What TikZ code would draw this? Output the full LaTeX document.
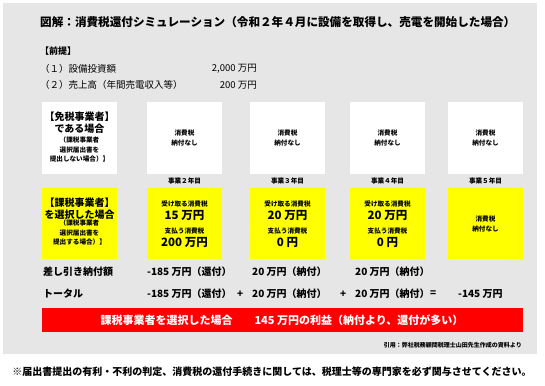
\documentclass[tikz,border=0pt]{standalone}
\usepackage{fontspec}
\setmainfont{Noto Sans CJK JP}
\definecolor{bgg}{HTML}{E6E6E6}
\definecolor{yel}{HTML}{FFFF00}
\definecolor{redb}{HTML}{FF0000}
\begin{document}
\begin{tikzpicture}[x=1pt,y=-1pt,
  lbl/.style={inner sep=0pt,font=\fontsize{9.5}{11}\selectfont},
  sml/.style={inner sep=0pt,align=center,font=\bfseries\fontsize{6.6}{9.6}\selectfont},
  big/.style={inner sep=0pt,font=\bfseries\fontsize{11.5}{13}\selectfont},
  head/.style={inner sep=0pt,align=center,font=\bfseries\fontsize{10}{11.8}\selectfont},
  row/.style={inner sep=0pt,anchor=west,font=\bfseries\fontsize{10}{12}\selectfont}]
\fill[white] (0,0) rectangle (545,385);
\useasboundingbox (0,0) rectangle (545,385);
\fill[bgg] (3,3) rectangle (537,354);
\node[anchor=west,inner sep=0pt,font=\bfseries\fontsize{11.6}{14}\selectfont] (title) at (40,22) {図解：消費税還付シミュレーション（令和２年４月に設備を取得し、売電を開始した場合）};
\node[lbl,anchor=west,font=\bfseries\fontsize{9}{11}\selectfont] (pre) at (40,51) {【前提】};
\node[lbl,anchor=west] (p1) at (40,69) {（１）設備投資額};
\node[lbl,anchor=east] (p1v) at (257,69) {2,000 万円};
\node[lbl,anchor=west] (p2) at (40,85) {（２）売上高（年間売電収入等）};
\node[lbl,anchor=east] (p2v) at (257,85) {200 万円};
% boxes
\foreach \x in {42,147,250,350,448}{
  \fill[white] (\x,102) rectangle ++(75,72);
  \fill[yel] (\x,188) rectangle ++(75,71);
}
\node[head] (w1a) at (79.5,123) {【免税事業者】\\である場合};
\node[sml] (w1b) at (79.5,149.5) {（課税事業者\\選択届出書を\\提出しない場合）】};
\foreach \n/\c in {w2/184.5,w3/287.5,w4/387.5,w5/485.5}{
  \node[sml] (\n) at (\c,138) {消費税\\納付なし};
}
\node[sml] (y2) at (184.5,181) {事業２年目};
\node[sml] (y3) at (287.5,181) {事業３年目};
\node[sml] (y4) at (387.5,181) {事業４年目};
\node[sml] (y5) at (485.5,181) {事業５年目};
\node[head] (k1a) at (79.5,209) {【課税事業者】\\を選択した場合};
\node[sml] (k1b) at (79.5,232.5) {（課税事業者\\選択届出書を\\提出する場合）】};
\node[sml] (r2) at (184.5,204) {受け取る消費税};
\node[big] (r2v) at (184.5,215.5) {15 万円};
\node[sml] (s2) at (184.5,231) {支払う消費税};
\node[big] (s2v) at (184.5,242.5) {200 万円};
\node[sml] (r3) at (287.5,204) {受け取る消費税};
\node[big] (r3v) at (287.5,215.5) {20 万円};
\node[sml] (s3) at (287.5,231) {支払う消費税};
\node[big] (s3v) at (287.5,242.5) {0 円};
\node[sml] (r4) at (387.5,204) {受け取る消費税};
\node[big] (r4v) at (387.5,215.5) {20 万円};
\node[sml] (s4) at (387.5,231) {支払う消費税};
\node[big] (s4v) at (387.5,242.5) {0 円};
\node[sml] (k5) at (485.5,224) {消費税\\納付なし};
% rows
\node[row] (d0) at (43,272) {差し引き納付額};
\node[row] (d2) at (147,272) {-185 万円（還付）};
\node[row] (d3) at (252,272) {20 万円（納付）};
\node[row] (d4) at (355,272) {20 万円（納付）};
\node[row] (t0) at (43,294) {トータル};
\node[row] (t2) at (147,294) {-185 万円（還付）};
\node[row] (pl1) at (237,294) {+};
\node[row] (t3) at (252,294) {20 万円（納付）};
\node[row] (pl2) at (340,294) {+};
\node[row] (t4) at (355,294) {20 万円（納付）};
\node[row] (eq) at (430,294) {=};
\node[row] (t5) at (458,294) {-145 万円};
% red bar
\fill[redb] (42,308) rectangle (523,332);
\node[inner sep=0pt,text=white,font=\bfseries\fontsize{11}{13}\selectfont] (res) at (282,320) {課税事業者を選択した場合\hspace{2em}145 万円の利益（納付より、還付が多い）};
\node[inner sep=0pt,anchor=east,font=\bfseries\fontsize{6}{8}\selectfont] (cite) at (522,345) {引用：弊社税務顧問税理士山田先生作成の資料より};
\node[inner sep=0pt,anchor=center,font=\bfseries\fontsize{10}{12}\selectfont] (note) at (272,372) {※届出書提出の有利・不利の判定、消費税の還付手続きに関しては、税理士等の専門家を必ず関与させてください。};
\end{tikzpicture}
\end{document}
